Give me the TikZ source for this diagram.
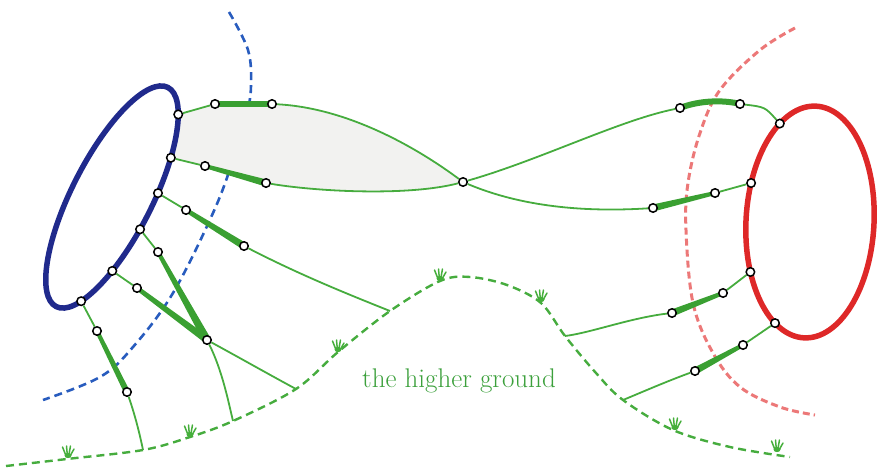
\documentclass[tikz,border=0pt]{standalone}
\usepackage{fontspec}
\usetikzlibrary{calc}
\pgfdeclarelayer{bg}
\pgfsetlayers{bg,main}
\definecolor{gline}{RGB}{70,172,62}
\definecolor{gthick}{RGB}{58,160,50}
\definecolor{ggrass}{RGB}{70,175,60}
\definecolor{gtext}{RGB}{60,160,60}
\definecolor{bell}{RGB}{32,42,140}
\definecolor{bdash}{RGB}{40,92,190}
\definecolor{rell}{RGB}{222,40,40}
\definecolor{rdash}{RGB}{236,120,120}
\definecolor{lens}{RGB}{242,242,240}
\newcommand{\taperseg}[4]{\fill[gthick] ($(#1.center)!#3!90:(#2.center)$) -- ($(#1.center)!#3!-90:(#2.center)$) -- ($(#2.center)!#4!90:(#1.center)$) -- ($(#2.center)!#4!-90:(#1.center)$) -- cycle;}
\begin{document}
\begin{tikzpicture}[x=1pt,y=-1pt,
  gthin/.style={draw=gline, line width=1.8pt},
  gthk/.style={draw=gthick, line width=6pt},
  mk/.style={circle, draw=black, fill=white, line width=1.5pt, inner sep=0pt, minimum size=8.5pt},
  grass/.pic={\draw[ggrass, line width=1.5pt, line cap=round] (-1.5,0) -- (-5.5,-10) (-0.5,0) -- (-1.5,-11) (0.5,0) -- (2.5,-11) (1.5,0) -- (6,-8); \fill[ggrass] (0,-1.5) ellipse [x radius=3.5, y radius=2.5];}]
\useasboundingbox (0,0) rectangle (881,468);

% markers on the blue ring
\begin{scope}[shift={(112,197)}, rotate=63]
\foreach \t/\n in {32.6/B1, 59.9/B2, 78.6/B3, 97.5/B4, 122.3/B5, 150.3/B6}
  \node[mk] (\n) at ({123*cos(\t)},{40*sin(\t)}) {};
\end{scope}
% markers on the red ring
\begin{scope}[shift={(810,222)}, rotate=-3]
\foreach \t/\n in {-123.5/R1, -162/R2, 152.8/R3, 117.6/R4}
  \node[mk] (\n) at ({64*cos(\t)},{116*sin(\t)}) {};
\end{scope}
% other markers
\node[mk] (M1a) at (215,104) {};
\node[mk] (M1b) at (272,104) {};
\node[mk] (M2a) at (205,166) {};
\node[mk] (M2b) at (266,183) {};
\node[mk] (M7a) at (186,210) {};
\node[mk] (M7b) at (244,246) {};
\node[mk] (M8a) at (158,252) {};
\node[mk] (M9a) at (137,288) {};
\node[mk] (J) at (207,340) {};
\node[mk] (M10a) at (97,331) {};
\node[mk] (M10b) at (127,392) {};
\node[mk] (X) at (463,182) {};
\node[mk] (M3a) at (680,108) {};
\node[mk] (M3b) at (740,104) {};
\node[mk] (M4a) at (653,208) {};
\node[mk] (M4b) at (715,193) {};
\node[mk] (M5a) at (723,293) {};
\node[mk] (M5b) at (672,313) {};
\node[mk] (M6a) at (743,345) {};
\node[mk] (M6b) at (695,371) {};
% ground points
\coordinate (G10) at (143,450);
\coordinate (G8) at (233,421);
\coordinate (G9) at (296,389);
\coordinate (G7) at (390,311);
\coordinate (G5) at (565,336);
\coordinate (G6) at (623,400);

\node[text=gtext, font=\fontsize{27}{32}\selectfont, anchor=base] (lbl) at (459,387) {the higher ground};

\begin{pgfonlayer}{bg}
% dashed boundaries
\draw[bdash, line width=2.6pt, dash pattern=on 8pt off 5pt] plot[smooth, tension=0.6] coordinates {(229,12) (248,50) (251,85) (247,113) (233,160) (213,213) (173,293) (133,347) (100,377) (43,400)};
\draw[rdash, line width=3pt, dash pattern=on 7pt off 4pt] plot[smooth, tension=0.6] coordinates {(795,28) (760,50) (720,90) (700,133) (688,183) (686,230) (693,303) (713,353) (740,387) (780,407) (815,415)};
% lens
\fill[lens] (B1.center) -- (M1a.center) -- (M1b.center) .. controls (350,108) and (420,150) .. (X.center) .. controls (410,196) and (320,192) .. (M2b.center) -- (M2a.center) -- (B2.center) -- cycle;
% rings
\begin{scope}[shift={(112,197)}, rotate=63]
\draw[bell, line width=5.5pt] (0,0) ellipse [x radius=123, y radius=40];
\end{scope}
\begin{scope}[shift={(810,222)}, rotate=-3]
\draw[rell, line width=5.5pt] (0,0) ellipse [x radius=64, y radius=116];
\end{scope}
% thin lines
\draw[gthin] (B1) -- (M1a);
\draw[gthin] (M1b) .. controls (350,108) and (420,150) .. (X);
\draw[gthin] (X) .. controls (515,204) and (575,213) .. (M4a);
\draw[gthin] (M4b) -- (R2);
\draw[gthin] (B2) -- (M2a);
\draw[gthin] (M2b) .. controls (320,192) and (410,196) .. (X);
\draw[gthin] (X) .. controls (540,160) and (620,120) .. (M3a);
\draw[gthin] (M3b) .. controls (765,107) .. (R1);
\draw[gthin] (B3) -- (M7a);
\draw[gthin] (M7b) .. controls (300,275) and (350,295) .. (G7);
\draw[gthin] (B4) -- (M8a);
\draw[gthin] (B5) -- (M9a);
\draw[gthin] (J) .. controls (222,370) and (228,400) .. (G8);
\draw[gthin] (J) .. controls (240,358) and (270,375) .. (G9);
\draw[gthin] (B6) -- (M10a);
\draw[gthin] (M10b) .. controls (135,415) and (140,435) .. (G10);
\draw[gthin] (R3) -- (M5a);
\draw[gthin] (M5b) .. controls (630,318) and (590,333) .. (G5);
\draw[gthin] (R4) -- (M6a);
\draw[gthin] (M6b) .. controls (665,382) and (640,393) .. (G6);
% thick segments
\taperseg{M1a}{M1b}{2.8pt}{3pt}
\taperseg{M2a}{M2b}{2pt}{3.5pt}
\taperseg{M7a}{M7b}{2.2pt}{3.6pt}
\taperseg{M8a}{J}{2pt}{4pt}
\taperseg{M9a}{J}{2.2pt}{3.6pt}
\taperseg{M10a}{M10b}{2pt}{3pt}
\draw[gthk] (M3a.center) .. controls (700,100) and (725,100) .. (M3b.center);
\taperseg{M4a}{M4b}{3.5pt}{2pt}
\taperseg{M5b}{M5a}{3.5pt}{2pt}
\taperseg{M6b}{M6a}{3.5pt}{2pt}
% ground
\draw[gline, line width=2.4pt, dash pattern=on 8pt off 5pt] plot[smooth, tension=0.55] coordinates {(6,466) (67,459) (G10) (190,437) (G8) (G9) (338,352) (G7) (440,281) (470,277) (507,285) (541,303) (G5) (596,373) (G6) (673,430) (730,447) (790,457)};
\foreach \p in {(68,457),(190,436),(338,351),(440,280),(541,301),(675,429),(777,451)}
  \pic at \p {grass};
\end{pgfonlayer}
\end{tikzpicture}
\end{document}
